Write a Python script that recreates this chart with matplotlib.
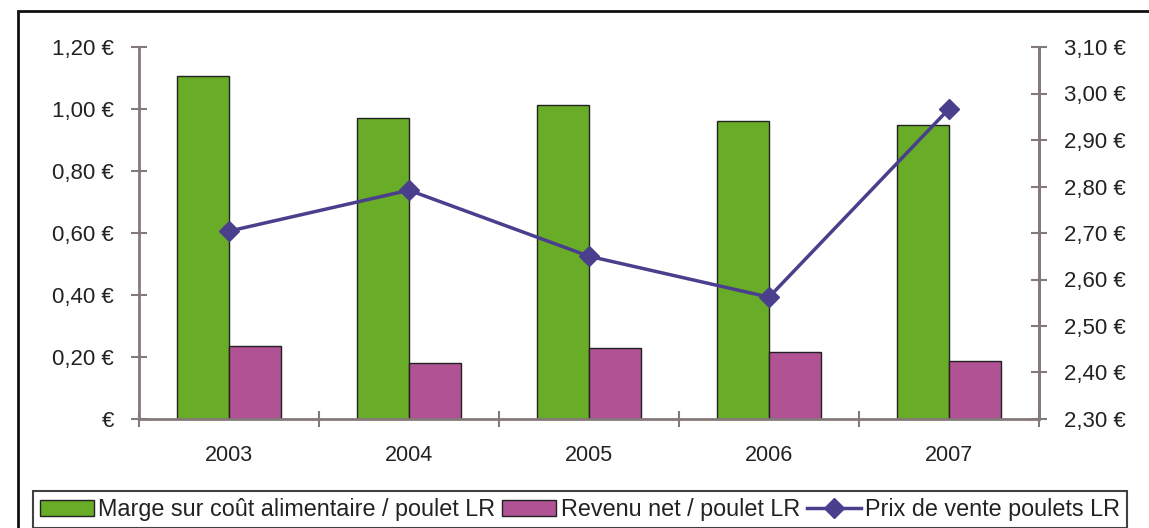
import matplotlib.pyplot as plt
import numpy as np
from matplotlib.patches import Rectangle
from matplotlib.ticker import FuncFormatter, MultipleLocator

years = ['2003', '2004', '2005', '2006', '2007']
marge = [1.106, 0.971, 1.013, 0.961, 0.948]
revenu = [0.235, 0.180, 0.229, 0.216, 0.187]
prix = [2.704, 2.792, 2.650, 2.562, 2.967]

green = '#68AC28'
purple = '#B05294'
navy = '#4A3F8C'
axis_col = '#857a7a'

plt.rcParams['font.family'] = ['Liberation Sans', 'DejaVu Sans']

fig = plt.figure(figsize=(11.49, 5.28), dpi=100)
ax = fig.add_axes([139 / 1149, 1 - 419 / 528, 900 / 1149, 372 / 528])

x = np.arange(len(years))
w = 0.29
ax.bar(x - w / 2, marge, w, color=green, edgecolor='#222222', linewidth=1,
       label='Marge sur coût alimentaire / poulet LR')
ax.bar(x + w / 2, revenu, w, color=purple, edgecolor='#222222', linewidth=1,
       label='Revenu net / poulet LR')
ax.set_xlim(-0.5, len(years) - 0.5)
ax.set_ylim(0, 1.2)


def euro(v, pos):
    if abs(v) < 1e-9:
        return '€'
    return f'{v:.2f} €'.replace('.', ',')


ax.yaxis.set_major_locator(MultipleLocator(0.2))
ax.yaxis.set_major_formatter(FuncFormatter(euro))
ax.set_xticks(x)
ax.set_xticklabels(years)
ax.set_xticks(np.arange(len(years) + 1) - 0.5, minor=True)
ax.tick_params(axis='x', which='major', length=0, pad=19, labelsize=15.5,
               labelcolor='#222222')
ax.tick_params(axis='x', which='minor', length=12, direction='inout',
               color=axis_col, width=1.5)
ax.tick_params(axis='y', which='major', length=12, direction='inout',
               color=axis_col, width=1.5, labelsize=16, pad=12,
               labelcolor='#222222')

ax.spines['top'].set_visible(False)
for s in ['left', 'right', 'bottom']:
    ax.spines[s].set_color(axis_col)
    ax.spines[s].set_linewidth(2)

ax2 = ax.twinx()
ax2.plot(x, prix, color=navy, linewidth=2.5, marker='D', markersize=10,
         label='Prix de vente poulets LR')
ax2.set_ylim(2.3, 3.1)
ax2.yaxis.set_major_locator(MultipleLocator(0.1))
ax2.yaxis.set_major_formatter(FuncFormatter(lambda v, p: f'{v:.2f} €'.replace('.', ',')))
ax2.tick_params(axis='y', which='major', length=12, direction='inout',
                color=axis_col, width=1.5, labelsize=16, pad=12,
                labelcolor='#222222')
for s in ['top', 'left', 'bottom']:
    ax2.spines[s].set_visible(False)
ax2.spines['right'].set_color(axis_col)
ax2.spines['right'].set_linewidth(2)

# outer frame
fig.patches.append(Rectangle((18 / 1149, -0.1), 1.2, 1 - 11 / 528 + 0.1,
                             transform=fig.transFigure, fill=False,
                             edgecolor='#111111', linewidth=2))

h1, l1 = ax.get_legend_handles_labels()
h2, l2 = ax2.get_legend_handles_labels()
leg = fig.legend(h1 + h2, l1 + l2, loc='upper left', ncol=3,
                 bbox_to_anchor=(33 / 1149, 1 - 491 / 528),
                 fontsize=16.8, frameon=True, fancybox=False,
                 edgecolor='#111111', borderaxespad=0, handlelength=2.3,
                 handletextpad=0.2, columnspacing=0.3, borderpad=0.3,
                 labelcolor='#222222')
leg.get_frame().set_linewidth(1.5)

fig.savefig('out.png', dpi=100)
